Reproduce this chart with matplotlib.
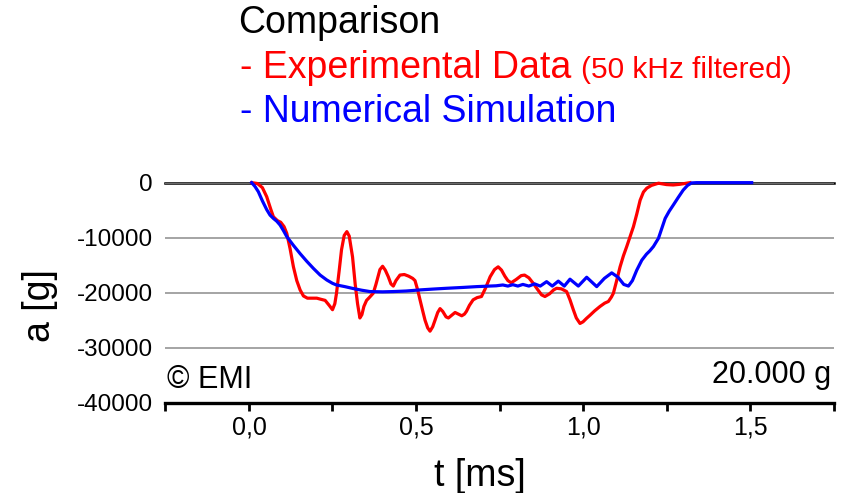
import matplotlib
matplotlib.use("Agg")
import matplotlib.pyplot as plt
from matplotlib.ticker import FixedLocator, FuncFormatter

plt.rcParams['font.family'] = ['Liberation Sans', 'DejaVu Sans']
plt.rcParams['axes.unicode_minus'] = False

# experimental data (50 kHz filtered)
t_exp = [0.008, 0.025, 0.04, 0.053, 0.065, 0.073, 0.085, 0.095, 0.105, 0.113,
         0.123, 0.133, 0.143, 0.153, 0.163, 0.175, 0.19, 0.203, 0.215, 0.228,
         0.24, 0.25, 0.257, 0.262, 0.27, 0.277, 0.285, 0.293, 0.30, 0.31,
         0.318, 0.325, 0.332, 0.338, 0.344, 0.352, 0.36, 0.372, 0.38, 0.392,
         0.40, 0.408, 0.417, 0.425, 0.432, 0.44, 0.452, 0.465, 0.478, 0.49,
         0.497, 0.505, 0.512, 0.52, 0.527, 0.535, 0.542, 0.55, 0.557, 0.565,
         0.572, 0.58, 0.59, 0.597, 0.605, 0.617, 0.627, 0.637, 0.645, 0.651,
         0.66, 0.671, 0.683, 0.696, 0.708, 0.722, 0.735, 0.746, 0.756, 0.766,
         0.775, 0.785, 0.80, 0.815, 0.825, 0.838, 0.851, 0.865, 0.876, 0.886,
         0.90, 0.912, 0.921, 0.935, 0.951, 0.961, 0.971, 0.98, 0.991, 1.0,
         1.01, 1.021, 1.035, 1.051, 1.065, 1.076, 1.085, 1.091, 1.10, 1.111,
         1.121, 1.131, 1.141, 1.151, 1.161, 1.171, 1.181, 1.191, 1.205, 1.226,
         1.25, 1.27, 1.29, 1.31, 1.32]
a_exp = [0, -150, -900, -2550, -4800, -6200, -6900, -7200, -8000, -9200,
         -12000, -15300, -17800, -19500, -20600, -21000, -21000, -21000, -21200, -21400,
         -22300, -23100, -22000, -20100, -16000, -12200, -9600, -8900, -9700, -13500,
         -18500, -22000, -24600, -24000, -22500, -21400, -20900, -20100, -18500, -15800,
         -15200, -15900, -17100, -18400, -18800, -17800, -16800, -16700, -17000, -17400,
         -17800, -19500, -21300, -23300, -25000, -26400, -27000, -26200, -25000, -23600,
         -22900, -23400, -24400, -24600, -24200, -23600, -23900, -24200, -23900, -23400,
         -22300, -21300, -20900, -20700, -19200, -17100, -15800, -15300, -15900, -17000,
         -17800, -18200, -17600, -16900, -16800, -17300, -18300, -19500, -20400, -20700,
         -20200, -19500, -19200, -19300, -19800, -21300, -23100, -24600, -25600, -25300,
         -24700, -24100, -23300, -22500, -21900, -21600, -20800, -20100, -18000, -15300,
         -13300, -11600, -9800, -8000, -5700, -3200, -1700, -1000, -500, -100,
         -350, -420, -300, -100, 0]

# numerical simulation
t_sim = [0.008, 0.018, 0.028, 0.04, 0.053, 0.063, 0.073, 0.083, 0.093, 0.103,
         0.113, 0.133, 0.153, 0.173, 0.193, 0.213, 0.233, 0.25, 0.262, 0.287,
         0.312, 0.337, 0.362, 0.40, 0.432, 0.47, 0.512, 0.55, 0.592, 0.64,
         0.682, 0.72, 0.74, 0.76, 0.775, 0.79, 0.805, 0.82, 0.838, 0.855,
         0.872, 0.891, 0.908, 0.926, 0.944, 0.961, 0.986, 1.011, 1.041, 1.064,
         1.086, 1.105, 1.122, 1.136, 1.148, 1.161, 1.176, 1.19, 1.20, 1.211,
         1.226, 1.236, 1.246, 1.258, 1.27, 1.285, 1.30, 1.313, 1.325, 1.34,
         1.40, 1.505]
a_sim = [0, -700, -1650, -3300, -4900, -5900, -6500, -7000, -7700, -8700,
         -9800, -11400, -12900, -14300, -15600, -16800, -17700, -18300, -18600, -18900,
         -19250, -19550, -19800, -19850, -19800, -19700, -19500, -19350, -19200, -19050,
         -18900, -18800, -18750, -18600, -18800, -18550, -18800, -18500, -18800, -18400,
         -18800, -18000, -18800, -17900, -18800, -17550, -18800, -17200, -18900, -17400,
         -16400, -17200, -18500, -18800, -17800, -15900, -14100, -13000, -12400, -11600,
         -10100, -8300, -6500, -5200, -4100, -2700, -1350, -500, -50, 0,
         0, 0]

yticks = [-40000, -30000, -20000, -10000, 0]
xticks_major = [0.0, 0.5, 1.0, 1.5]
xticks_minor = [-0.25, 0.25, 0.75, 1.25, 1.75]

fig = plt.figure(figsize=(8.5, 4.93), dpi=100)
ax = fig.add_axes([0.1947, 0.1832, 0.7859, 0.4463])

ax.set_xlim(-0.25, 1.75)
ax.set_ylim(-40000, 0)

for s in ['top', 'right', 'left']:
    ax.spines[s].set_visible(False)
ax.spines['bottom'].set_linewidth(2.4)

ax.yaxis.set_major_locator(FixedLocator(yticks))
ax.yaxis.set_major_formatter(FuncFormatter(lambda v, p: '%d' % v))
ax.tick_params(axis='y', length=0, pad=9, labelsize=17.5)
ax.grid(axis='y', color='#8c8c8c', lw=1.1)
ax.axhline(0, color='black', lw=1.8, zorder=1.5, clip_on=False)

ax.xaxis.set_major_locator(FixedLocator(xticks_major))
ax.xaxis.set_minor_locator(FixedLocator(xticks_minor))
ax.xaxis.set_major_formatter(FuncFormatter(lambda v, p: ('%.1f' % v).replace('.', ',')))
ax.tick_params(axis='x', which='both', direction='out', length=6, width=2, pad=3)
ax.tick_params(axis='x', which='major', labelsize=18)

ax.plot(t_exp, a_exp, color='red', lw=2.3, clip_on=False, zorder=3)
ax.plot(t_sim, a_sim, color='blue', lw=2.3, clip_on=False, zorder=4)

ax.text(0.003, 0.065, '\u00a9 EMI', transform=ax.transAxes, fontsize=22,
        ha='left', va='baseline')
ax.text(0.997, 0.088, '20.000 g', transform=ax.transAxes, fontsize=22,
        ha='right', va='baseline')

H = 493.0
fig.text(238 / 850, 1 - 33 / H, 'Comparison', fontsize=27, va='baseline')
fig.text(240 / 850, 1 - 78 / H, '- Experimental Data', fontsize=27,
         color='red', va='baseline')
fig.text(581 / 850, 1 - 78 / H, '(50 kHz filtered)', fontsize=21.5,
         color='red', va='baseline')
fig.text(240 / 850, 1 - 121.7 / H, '- Numerical Simulation', fontsize=27,
         color='blue', va='baseline')

fig.text(480 / 850, 1 - 486 / H, 't [ms]', fontsize=27, ha='center', va='baseline')
fig.text(40 / 850, 1 - 306 / H, 'a [g]', fontsize=27, ha='center', va='center',
         rotation=90)

fig.savefig('out.png', dpi=100)
